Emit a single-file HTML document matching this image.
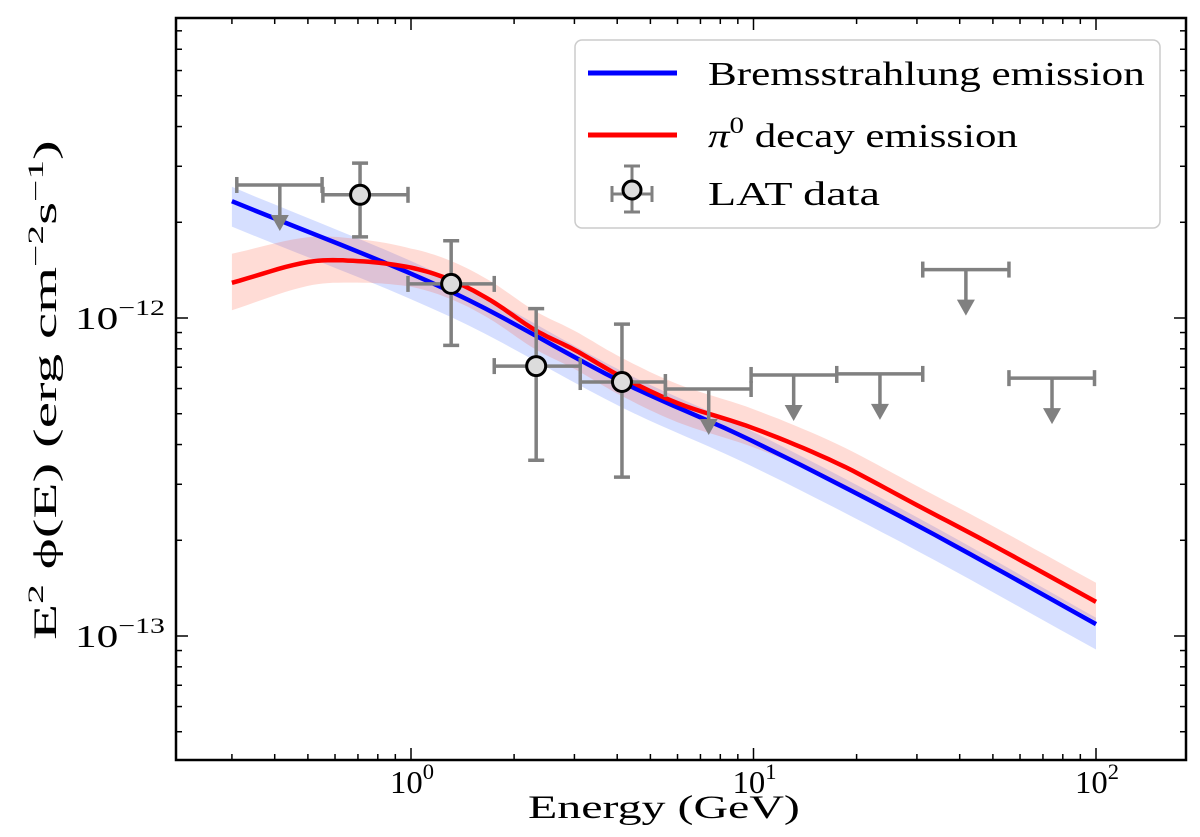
<!DOCTYPE html>
<html><head><meta charset="utf-8"><style>
html,body{margin:0;padding:0;background:#fff;}
svg{display:block;font-family:"Liberation Serif",serif;}
</style></head><body>
<svg id="chart" width="1200" height="837" viewBox="0 0 1200 837" xmlns="http://www.w3.org/2000/svg">
<defs><clipPath id="clip"><rect x="176" y="18" width="1010" height="742"/></clipPath></defs>
<g id="bands" clip-path="url(#clip)"></g>
<g id="lines" clip-path="url(#clip)"></g>
<g id="ul"></g>
<g id="pts"></g>
<g id="axes"></g>
<rect x="176" y="18" width="1010" height="742" fill="none" stroke="#000" stroke-width="2.5"/>
<text id="xt" x="528" y="818" font-size="33">Energy (GeV)</text>
<g transform="translate(56,640) rotate(-90)"><text id="yt" x="0" y="0" font-size="33">E<tspan font-size="22" dy="-13">2</tspan><tspan dy="13"> ϕ(E) (erg cm</tspan><tspan font-size="22" dy="-13">−2</tspan><tspan dy="13">s</tspan><tspan font-size="22" dy="-13">−1</tspan><tspan dy="13">)</tspan></text></g>
<g>
<rect x="575" y="40" width="585" height="188" rx="7" fill="#fff" fill-opacity="0.85" stroke="#ccc" stroke-width="1.5"/>
<line x1="588" y1="73" x2="677" y2="73" stroke="#0000ff" stroke-width="5"/>
<text id="lg1" x="708" y="85" font-size="34">Bremsstrahlung emission</text>
<line x1="588" y1="135" x2="677" y2="135" stroke="#ff0000" stroke-width="5"/>
<text id="lg2" x="708" y="147" font-size="34"><tspan font-style="italic">π</tspan><tspan font-size="23" dy="-14">0</tspan><tspan dy="14"> decay emission</tspan></text>
<g stroke="#808080" stroke-width="3">
<line x1="632" y1="194" x2="632" y2="166"/><line x1="632" y1="194" x2="632" y2="212"/><line x1="612" y1="194" x2="652" y2="194"/>
<line x1="624" y1="166" x2="640" y2="166"/><line x1="624" y1="212" x2="640" y2="212"/>
<line x1="612" y1="186" x2="612" y2="202"/><line x1="652" y1="186" x2="652" y2="202"/>
<circle cx="632" cy="190" r="9" fill="#dcdcdc" stroke="#000" stroke-width="3"/>
</g>
<text id="lg3" x="708" y="205" font-size="34">LAT data</text>
</g>
</svg>
<script>
const bremE=[0.3,1.31,4.13,9.8,30,100];
const bremF=[2.33e-12,1.21e-12,6.29e-13,4.13e-13,2.23e-13,1.09e-13];
const pionE=[0.3,0.5,0.7,1.0,1.3,1.7,2.3,3,4.1,6,10,17.5,30,50,100];
const pionF=[1.29e-12,1.50e-12,1.51e-12,1.44e-12,1.32e-12,1.14e-12,9.17e-13,7.94e-13,6.55e-13,5.40e-13,4.50e-13,3.50e-13,2.58e-13,1.93e-13,1.28e-13];
const ptE=[0.71,1.31,2.32,4.13];
const ptF=[2.44e-12,1.28e-12,7.06e-13,6.29e-13];
const ptHi=[3.07e-12,1.75e-12,1.07e-12,9.57e-13];
const ptLo=[1.80e-12,8.2e-13,3.57e-13,3.16e-13];
const ptElo=[0.553,0.98,1.75,3.12];
const ptEhi=[0.98,1.75,3.12,5.53];
const ulE=[0.414,7.4,13.1,23.4,41.7,74.4];
const ulF=[2.62e-12,5.98e-13,6.62e-13,6.67e-13,1.42e-12,6.47e-13];
const ulElo=[0.31,5.53,9.84,17.5,31.2,55.7];
const ulEhi=[0.55,9.84,17.5,31.2,55.7,99];
const xTickVals=[1,10,100];
const xTickLabels=["0","1","2"];
const yTickVals=[1e-12,1e-13];
const yTickLabels=["−12","−13"];

const NS="http://www.w3.org/2000/svg";
const X=e=>411+342.5*Math.log10(e);
const Y=f=>318-318*(Math.log10(f)+12);
function mk(tag,attrs,parent){const el=document.createElementNS(NS,tag);for(const k in attrs)el.setAttribute(k,attrs[k]);parent.appendChild(el);return el;}
function dense(E,F){const pts=[];const n=E.length;for(let i=0;i<n-1;i++){const a=Math.log10(E[i]),b=Math.log10(E[i+1]),fa=Math.log10(F[i]),fb=Math.log10(F[i+1]);
 const m0=i>0?(fb-Math.log10(F[i-1]))/(b-Math.log10(E[i-1])):(fb-fa)/(b-a);
 const m1=i<n-2?(Math.log10(F[i+2])-fa)/(Math.log10(E[i+2])-a):(fb-fa)/(b-a);
 const h=b-a;for(let s=0;s<10;s++){const t=s/10,t2=t*t,t3=t2*t;const v=(2*t3-3*t2+1)*fa+(t3-2*t2+t)*h*m0+(-2*t3+3*t2)*fb+(t3-t2)*h*m1;pts.push([a+t*h,v]);}}
 pts.push([Math.log10(E[n-1]),Math.log10(F[n-1])]);return pts;}
function pathOf(pts,off){return pts.map((p,i)=>(i?'L':'M')+(411+342.5*p[0]).toFixed(1)+','+(318-318*(p[1]+off(p[0])+12)).toFixed(1)).join('');}
const bands=document.getElementById('bands'),lines=document.getElementById('lines');
const bp=dense(bremE,bremF),pp=dense(pionE,pionF);
function band(pts,up,dn,color,name){const top=pathOf(pts,up);const bot=pts.slice().reverse().map(p=>'L'+(411+342.5*p[0]).toFixed(1)+','+(318-318*(p[1]+dn(p[0])+12)).toFixed(1)).join('');
 const el=mk('path',{d:top+bot+'Z',fill:color,'fill-opacity':0.2,stroke:'none'},bands);
 
 }
band(bp,x=>0.04-0.01*x,()=>-0.08,'#3060ff','bremsstrahlung-band');
band(pp,x=>0.06+0.06*Math.max(0,-x),x=>-0.06-0.05*Math.max(0,-x),'#ff5030','pion-band');
let l1=mk('path',{d:pathOf(bp,()=>0),fill:'none',stroke:'#0000ff','stroke-width':4.5},lines);


let l2=mk('path',{d:pathOf(pp,()=>0),fill:'none',stroke:'#ff0000','stroke-width':4.5},lines);



const ul=document.getElementById('ul');
ulE.forEach((e,i)=>{const g=mk('g',{stroke:'#808080','stroke-width':3.5,fill:'#808080'},ul);
 
 
 const x=X(e),y=Y(ulF[i]),x0=X(ulElo[i]),x1=X(ulEhi[i]);
 mk('line',{x1:x0,y1:y,x2:x1,y2:y},g);mk('line',{x1:x0,y1:y-8,x2:x0,y2:y+8},g);mk('line',{x1:x1,y1:y-8,x2:x1,y2:y+8},g);
 mk('line',{x1:x,y1:y,x2:x,y2:y+32},g);mk('polygon',{points:`${x-9},${y+30} ${x+9},${y+30} ${x},${y+46}`,stroke:'none'},g);});

const pg=document.getElementById('pts');
ptE.forEach((e,i)=>{const g=mk('g',{stroke:'#808080','stroke-width':3.5},pg);
 
 
 const x=X(e),y=Y(ptF[i]),yh=Y(ptHi[i]),yl=Y(ptLo[i]),x0=X(ptElo[i]),x1=X(ptEhi[i]);
 mk('line',{x1:x,y1:yh,x2:x,y2:yl},g);mk('line',{x1:x0,y1:y,x2:x1,y2:y},g);
 mk('line',{x1:x-8,y1:yh,x2:x+8,y2:yh},g);mk('line',{x1:x-8,y1:yl,x2:x+8,y2:yl},g);
 mk('line',{x1:x0,y1:y-8,x2:x0,y2:y+8},g);mk('line',{x1:x1,y1:y-8,x2:x1,y2:y+8},g);
 mk('circle',{cx:x,cy:y,r:9.5,fill:'#dcdcdc',stroke:'#000','stroke-width':3},g);});

function fit(el,w,x0,y0){const n=el.getBBox().width;if(!n)return;const s=w/n;el.setAttribute('transform',`translate(${x0},${y0}) scale(${s},1) translate(${-x0},${-y0})`);}

const ax=document.getElementById('axes');
for(let d=-1;d<=2;d++)for(let m=1;m<10;m++){const e=m*Math.pow(10,d);const x=X(e);if(x<177||x>1185)continue;const L=m==1?12:6;
 mk('line',{x1:x,y1:760,x2:x,y2:760-L,stroke:'#000','stroke-width':1.5},ax);mk('line',{x1:x,y1:18,x2:x,y2:18+L,stroke:'#000','stroke-width':1.5},ax);}
for(let d=-14;d<=-11;d++)for(let m=1;m<10;m++){const f=m*Math.pow(10,d);const y=Y(f);if(y<19||y>759)continue;const L=m==1?12:6;
 mk('line',{x1:176,y1:y,x2:176+L,y2:y,stroke:'#000','stroke-width':1.5},ax);mk('line',{x1:1186,y1:y,x2:1186-L,y2:y,stroke:'#000','stroke-width':1.5},ax);}
xTickVals.forEach((v,i)=>{const x0=X(v)-21;const t=mk('text',{x:x0,y:793,'font-size':32},ax);t.innerHTML='10<tspan font-size="22" dy="-14">'+xTickLabels[i]+'</tspan>';
 
 
 fit(t,44,x0,793);});
yTickVals.forEach((v,i)=>{const x0=75;const t=mk('text',{x:x0,y:Y(v)+11,'font-size':32},ax);t.innerHTML='10<tspan font-size="22" dy="-14">'+yTickLabels[i]+'</tspan>';
 
 
 fit(t,90,x0,Y(v));});
fit(document.getElementById('xt'),272,528,818);
fit(document.getElementById('lg1'),437,708,85);
fit(document.getElementById('lg2'),310,708,147);
fit(document.getElementById('lg3'),172,708,205);
fit(document.getElementById('yt'),500,0,0);
</script>
</body></html>
